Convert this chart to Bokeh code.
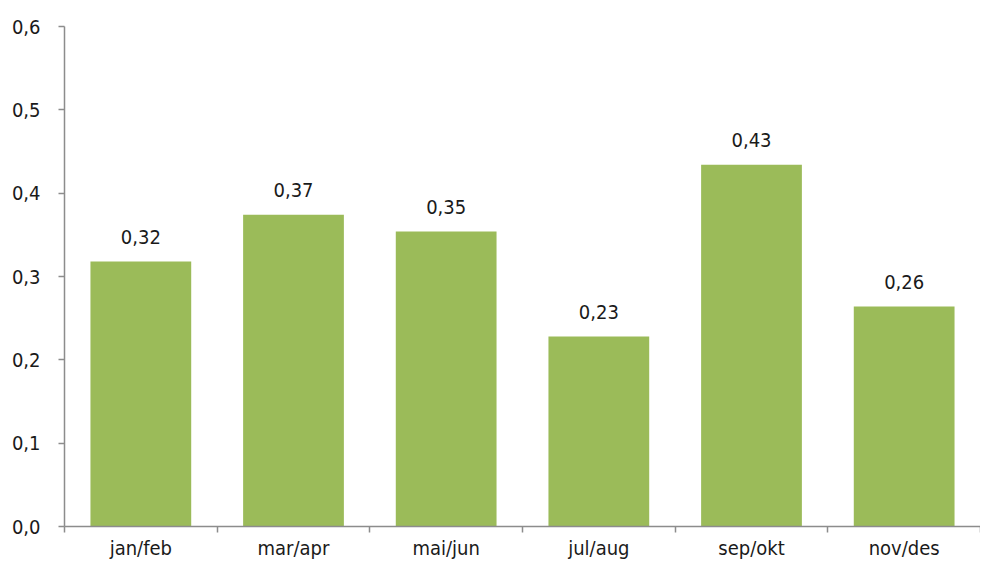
from bokeh.plotting import figure
from bokeh.models import ColumnDataSource, FixedTicker, CustomJSTickFormatter, Range1d
from bokeh.embed import file_html
from bokeh.resources import INLINE
from bokeh.core.properties import value

categories = ["jan/feb", "mar/apr", "mai/jun", "jul/aug", "sep/okt", "nov/des"]
values = [0.318, 0.374, 0.354, 0.228, 0.434, 0.264]
y_ticks = [0.0, 0.1, 0.2, 0.3, 0.4, 0.5, 0.6]

FONT = "DejaVu Sans Condensed"
AXIS_COLOR = "#8c8c8c"
BAR_COLOR = "#9BBB59"

xs = [i + 0.5 for i in range(len(categories))]
labels = [f"{v:.2f}".replace(".", ",") for v in values]
src = ColumnDataSource(dict(x=xs, top=values, label=labels))

p = figure(width=980, height=562, output_backend="svg", toolbar_location=None,
           x_range=Range1d(0, len(categories)), y_range=Range1d(0, 0.6),
           min_border_left=64, min_border_right=0, min_border_top=26, min_border_bottom=30)
p.outline_line_color = None
p.grid.grid_line_color = None
p.background_fill_color = "white"
p.border_fill_color = "white"

p.vbar(x="x", top="top", bottom=0, width=0.66, source=src, fill_color=BAR_COLOR, line_color=None)
p.text(x="x", y="top", text="label", source=src, text_align="center", text_baseline="alphabetic",
       y_offset=-25, text_font=value(FONT), text_font_size="20px", text_color="#1a1a1a")

# x axis
p.xaxis.ticker = FixedTicker(ticks=xs, minor_ticks=list(range(len(categories) + 1)))
p.xaxis.formatter = CustomJSTickFormatter(args=dict(labels=categories),
                                          code="return labels[Math.floor(tick)];")
p.xaxis.major_tick_out = 0
p.xaxis.major_tick_in = 0
p.xaxis.minor_tick_out = 6
p.xaxis.minor_tick_in = 0
p.xaxis.minor_tick_line_color = AXIS_COLOR
p.xaxis.minor_tick_line_width = 1.5
p.xaxis.axis_line_color = AXIS_COLOR
p.xaxis.axis_line_width = 1.5
p.xaxis.major_label_standoff = 3
p.xaxis.major_label_text_font = FONT
p.xaxis.major_label_text_font_size = "20px"
p.xaxis.major_label_text_color = "#1a1a1a"

# y axis
p.yaxis.ticker = FixedTicker(ticks=y_ticks, minor_ticks=[])
p.yaxis.formatter = CustomJSTickFormatter(code="return tick.toFixed(1).replace('.', ',');")
p.yaxis.major_tick_out = 6
p.yaxis.major_tick_in = 0
p.yaxis.major_tick_line_color = AXIS_COLOR
p.yaxis.major_tick_line_width = 1.5
p.yaxis.minor_tick_line_color = None
p.yaxis.axis_line_color = AXIS_COLOR
p.yaxis.axis_line_width = 1.5
p.yaxis.major_label_standoff = 18
p.yaxis.major_label_text_font = FONT
p.yaxis.major_label_text_font_size = "20px"
p.yaxis.major_label_text_color = "#1a1a1a"

open("out.html", "w").write(file_html(p, INLINE))
